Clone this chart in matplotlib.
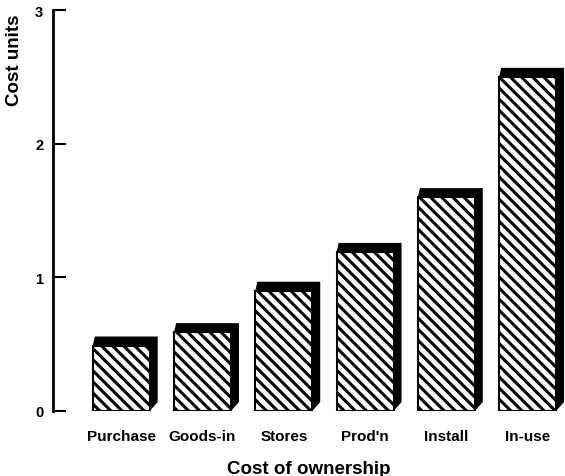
import matplotlib.pyplot as plt

categories = ['Purchase', 'Goods-in', 'Stores', "Prod'n", 'Install', 'In-use']
cost_units = [0.49, 0.59, 0.90, 1.19, 1.60, 2.50]
y_ticks = [0, 1, 2, 3]

plt.rcParams['font.family'] = ['Liberation Sans', 'DejaVu Sans']
plt.rcParams['hatch.linewidth'] = 2.2

fig = plt.figure(figsize=(5.65, 4.77), dpi=100)
W, H = 565, 477
ax = fig.add_axes([53 / W, 1 - 412 / H, (W - 53) / W, (412 - 11) / H])

xmin, xmax = -0.84, 5.46
ymin, ymax = 0, 3
ax.set_xlim(xmin, xmax)
ax.set_ylim(ymin, ymax)

# pixel -> data unit sizes for the 3D shadow
px_x = (xmax - xmin) / (W - 53)
px_y = (ymax - ymin) / (412 - 11)
dx = 8 * px_x
dy = 9 * px_y
ex = 2 * px_x
width = 0.7

xs = list(range(len(categories)))
for x, v in zip(xs, cost_units):
    left = x - width / 2
    right = x + width / 2
    sx = [left, left + ex, right + dx, right + dx, right]
    sy = [v, v + dy, v + dy, dy, 0]
    ax.fill(sx, sy, color='black', lw=0, zorder=2)

ax.bar(xs, cost_units, width=width, color='white', edgecolor='black',
       hatch='\\\\\\', linewidth=1.5, zorder=3)

for s in ['top', 'right', 'bottom']:
    ax.spines[s].set_visible(False)
ax.spines['left'].set_linewidth(2)

ax.set_yticks(y_ticks)
ax.set_yticklabels([str(t) for t in y_ticks], fontsize=10.5, fontweight='bold')
ax.tick_params(axis='y', direction='in', length=9.5, width=1.5, pad=7)

ax.set_xticks(xs)
ax.set_xticklabels(categories, fontsize=11, fontweight='bold')
ax.tick_params(axis='x', length=0, pad=13)

ax.set_xlabel('Cost of ownership', fontsize=13.5, fontweight='bold', labelpad=12)
ax.set_ylabel('Cost units', fontsize=13.5, fontweight='bold')
ax.yaxis.set_label_coords(-0.058, 0.878)

fig.savefig('out.png', dpi=100)
